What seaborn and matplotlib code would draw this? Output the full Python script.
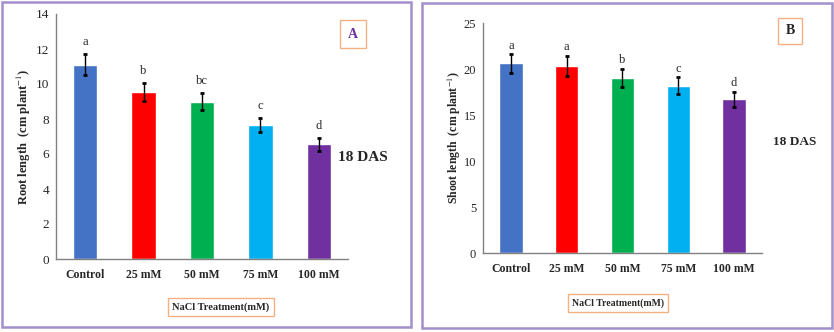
import numpy as np
import pandas as pd
import seaborn as sns
import matplotlib.pyplot as plt
from matplotlib.patches import Rectangle
from matplotlib.ticker import FixedLocator

treatments = ["Control", "25 mM", "50 mM", "75 mM", "100 mM"]
bar_colors = ["#4472C4", "#FF0000", "#00B050", "#00B0F0", "#7030A0"]

root_length = [11.1, 9.55, 9.0, 7.65, 6.55]
root_err = [0.6, 0.5, 0.5, 0.4, 0.35]
root_letters = ["a", "b", "bc", "c", "d"]

shoot_length = [20.6, 20.3, 19.0, 18.2, 16.7]
shoot_err = [1.0, 1.1, 1.0, 0.9, 0.8]
shoot_letters = ["a", "a", "b", "c", "d"]

sns.set_style("white")
plt.rcParams['font.family'] = ['Liberation Serif', 'DejaVu Serif']
plt.rcParams['mathtext.fontset'] = 'stix'

fig = plt.figure(figsize=(8.34, 3.32), dpi=100)
W, H = 834, 332


def px(x0, y0, x1, y1):
    # pixel box -> figure fraction [left, bottom, width, height]
    return [x0 / W, 1 - y1 / H, (x1 - x0) / W, (y1 - y0) / H]


def panel(rect, vals, errs, letters, ymax, ystep, ylabel, label_off, ylsize, ticksize):
    ax = fig.add_axes(rect)
    df = pd.DataFrame({"treat": treatments, "val": vals})
    sns.barplot(data=df, x="treat", y="val", hue="treat", palette=bar_colors,
                width=0.42, legend=False, ax=ax, saturation=1)
    ax.errorbar(range(5), vals, yerr=errs, fmt="none", ecolor="black",
                elinewidth=1, capsize=1.5, capthick=2)
    for i, (v, e, l) in enumerate(zip(vals, errs, letters)):
        ax.text(i, v + e + label_off, l, ha="center", va="bottom", fontsize=9)
    ax.set_xlim(-0.5, 4.5)
    ax.set_ylim(0, ymax)
    ax.set_yticks(np.arange(0, ymax + 0.1, ystep))
    ax.set_xlabel("")
    ax.set_ylabel(ylabel, fontsize=ylsize, fontweight="bold")
    for s in ["top", "right"]:
        ax.spines[s].set_visible(False)
    for s in ["left", "bottom"]:
        ax.spines[s].set_color("#808080")
        ax.spines[s].set_linewidth(1)
    ax.tick_params(axis="y", length=3, color="#808080", labelsize=ticksize, pad=2, direction="out")
    ax.tick_params(axis="x", which="major", length=0, labelsize=8.5, pad=7)
    ax.xaxis.set_minor_locator(FixedLocator([0.5, 1.5, 2.5, 3.5]))
    ax.tick_params(axis="x", which="minor", length=3, color="#808080", direction="out")
    for t in ax.get_xticklabels():
        t.set_fontweight("bold")
    return ax


axA = panel(px(56, 14, 348, 259), root_length, root_err, root_letters, 14, 2,
            "Root length  (cm plant$^{-1}$)", 0.35, 9, 9.5)
axB = panel(px(483, 23, 762, 253), shoot_length, shoot_err, shoot_letters, 25, 5,
            "Shoot length  (cm plant$^{-1}$)", 0.3, 8.5, 9)
axA.yaxis.set_label_coords(-0.08, 0.5)
axB.yaxis.set_label_coords(-0.07, 0.5)

# panel frames
for (x0, y0, x1, y1) in [(2, 2, 411, 327), (422, 3, 832, 328)]:
    fig.patches.append(Rectangle((x0 / W, 1 - y1 / H), (x1 - x0) / W, (y1 - y0) / H,
                                 transform=fig.transFigure, fill=False,
                                 edgecolor="#A38FCB", linewidth=1.8))

# panel letters in boxes
fig.text(353 / W, 1 - 34 / H, "A", ha="center", va="center", fontsize=10,
         fontweight="bold", color="#7030A0",
         bbox=dict(boxstyle="square,pad=0.55", fc="white", ec="#F4B183", lw=1))
fig.text(790 / W, 1 - 31 / H, "B", ha="center", va="center", fontsize=10,
         fontweight="bold", color="#222222",
         bbox=dict(boxstyle="square,pad=0.5", fc="white", ec="#F4B183", lw=1))

fig.text(363 / W, 1 - 158 / H, "18 DAS", ha="center", va="center", fontsize=11,
         fontweight="bold")
fig.text(795 / W, 1 - 142 / H, "18 DAS", ha="center", va="center", fontsize=9.5,
         fontweight="bold")

fig.text(221 / W, 1 - 307 / H, "NaCl Treatment(mM)", ha="center", va="center",
         fontsize=7.5, fontweight="bold",
         bbox=dict(boxstyle="square,pad=0.4", fc="white", ec="#F4B183", lw=1))
fig.text(618 / W, 1 - 303 / H, "NaCl Treatment(mM)", ha="center", va="center",
         fontsize=7, fontweight="bold",
         bbox=dict(boxstyle="square,pad=0.4", fc="white", ec="#F4B183", lw=1))

fig.savefig("out.png", dpi=100)
